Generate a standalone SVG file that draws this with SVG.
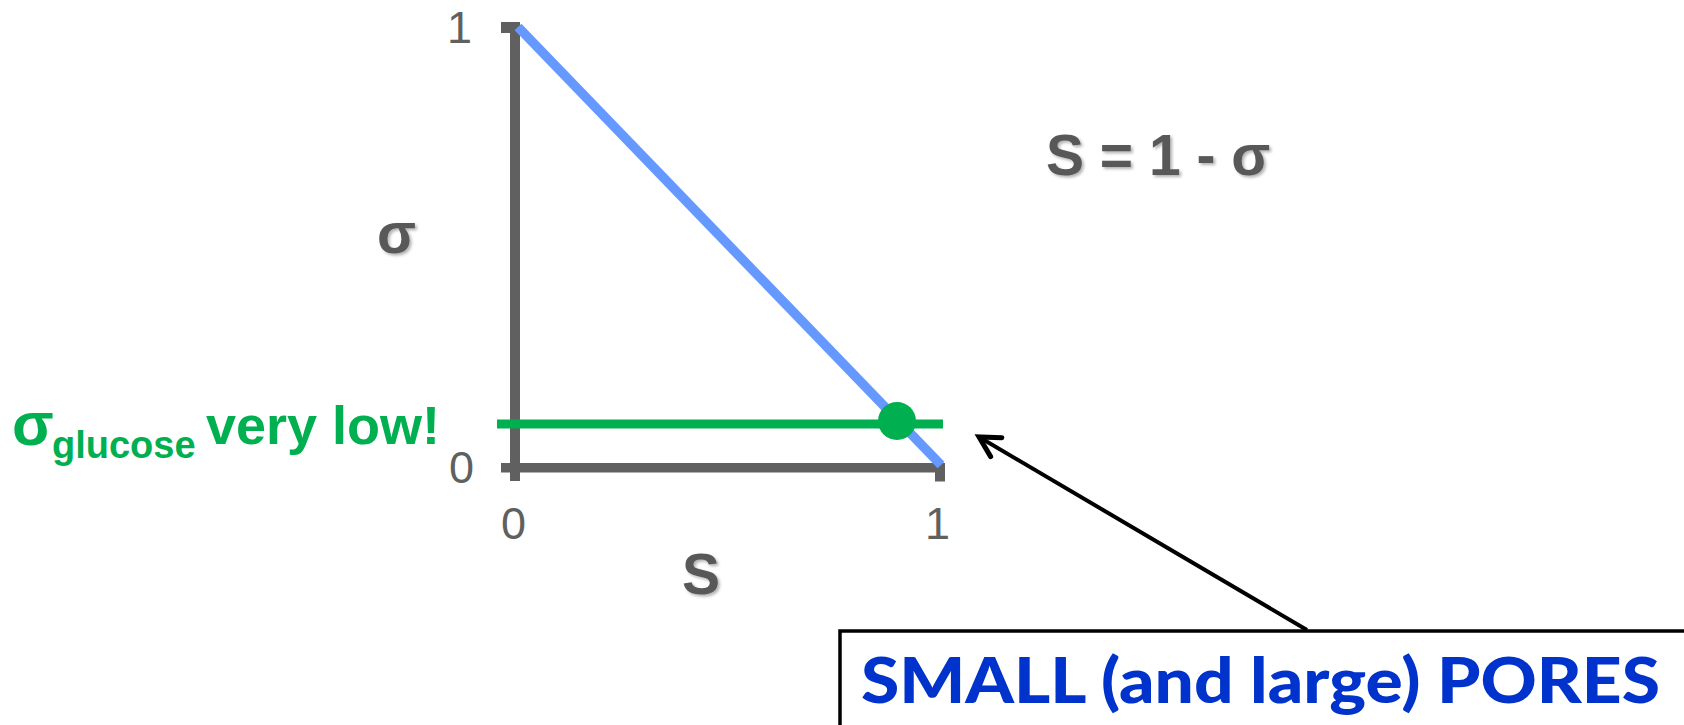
<svg xmlns="http://www.w3.org/2000/svg" width="1684" height="725" viewBox="0 0 1684 725">
<style>
.num{font-family:"Liberation Sans",Arial,sans-serif;font-size:45px;fill:#606060}
.lbl{font-family:"Liberation Sans",Arial,sans-serif;font-size:57px;font-weight:bold;fill:#595959}
.grn{font-family:"Liberation Sans",Arial,sans-serif;font-weight:bold;fill:#00B050}
.ax{fill:#606060}
</style>
<defs>
<filter id="sh" x="-20%" y="-20%" width="140%" height="140%">
<feDropShadow dx="2" dy="2" stdDeviation="1.5" flood-color="#000" flood-opacity="0.3"/>
</filter>
<marker id="ah" markerWidth="12" markerHeight="12" refX="11" refY="6" orient="auto" markerUnits="userSpaceOnUse" viewBox="0 0 12 12" overflow="visible">
<path d="M-9,-5 L11,6 L-9,17" fill="none" stroke="#000" stroke-width="5" stroke-linecap="round"/>
</marker>
</defs>
<g id="axes">
<rect class="ax" x="510" y="22" width="10" height="459"/>
<rect class="ax" x="501" y="22" width="12" height="11"/>
<rect class="ax" x="501" y="463" width="444" height="9.5"/>
<rect class="ax" x="935" y="463" width="10" height="18.5"/>
</g>
<g id="ticks">
<text class="num" x="447" y="43">1</text>
<text class="num" x="449" y="483">0</text>
<text class="num" x="501" y="539">0</text>
<text class="num" x="925" y="539">1</text>
</g>
<g id="labels">
<text class="lbl" x="377" y="253" font-size="59" filter="url(#sh)">σ</text>
<text class="lbl" x="682" y="594" filter="url(#sh)">S</text>
<text class="lbl" x="1046" y="175" filter="url(#sh)">S = 1 - σ</text>
</g>
<g id="curve">
<line x1="518" y1="27" x2="941" y2="465" stroke="#6699FF" stroke-width="9.5"/>
</g>
<g id="glucose">
<line x1="497" y1="424" x2="943" y2="424" stroke="#00B050" stroke-width="9"/>
<circle cx="897" cy="421" r="19" fill="#00B050"/>
<text class="grn" x="12" y="445" font-size="61">σ</text>
<text class="grn" x="52" y="458" font-size="38">glucose</text>
<text class="grn" x="206" y="444" font-size="54">very low!</text>
</g>
<g id="connectors">
<line x1="1307" y1="630" x2="979" y2="437" stroke="#000" stroke-width="4" marker-end="url(#ah)"/>
</g>
<g id="pores">
<rect x="840" y="631" width="900" height="200" fill="#fff" stroke="#000" stroke-width="3.5"/>
<text x="861" y="703" font-family="Lato,'Liberation Sans',sans-serif" font-weight="900" font-size="63" fill="#0033CC" textLength="799" lengthAdjust="spacingAndGlyphs">SMALL (and large) PORES</text>
</g>
</svg>
